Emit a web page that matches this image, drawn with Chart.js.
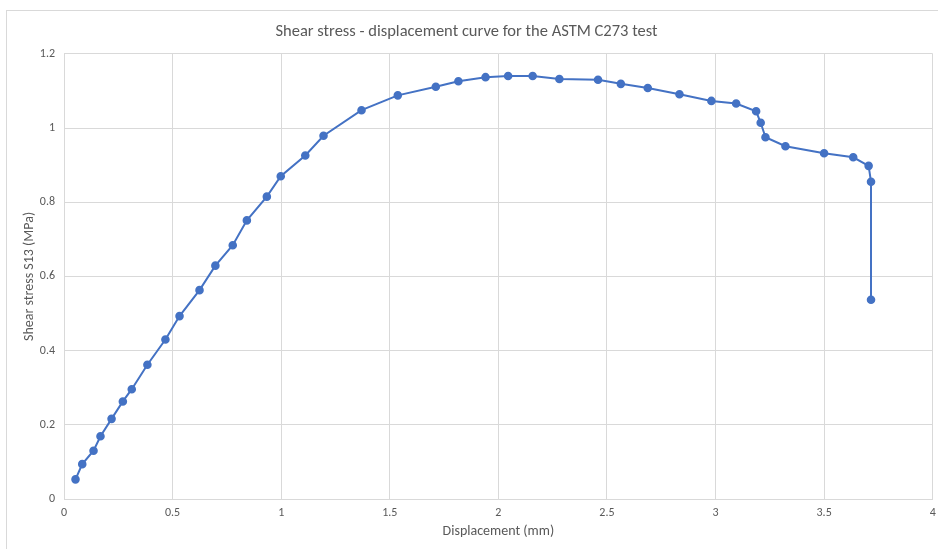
<!DOCTYPE html>
<html>
<head>
<meta charset="utf-8">
<script src="https://cdn.jsdelivr.net/npm/chart.js@4"></script>
<style>
  html, body { margin: 0; padding: 0; background: #fff; }
  #wrap { position: relative; width: 938px; height: 549px; }
  #frame { position: absolute; left: 6px; top: 10px; width: 940px; height: 545px; border: 1px solid #d9d9d9; box-sizing: border-box; }
  canvas { position: absolute; left: 0; top: 0; }
</style>
</head>
<body>
<div id="wrap">
  <div id="frame"></div>
  <canvas id="shearChart" width="938" height="549"></canvas>
</div>
<script>
// displacement (mm)
const displacement = [0.053, 0.084, 0.136, 0.168, 0.219, 0.271, 0.312, 0.384, 0.467, 0.532, 0.624, 0.697, 0.777, 0.842, 0.934, 0.998, 1.111, 1.195, 1.370, 1.537, 1.712, 1.816, 1.941, 2.045, 2.158, 2.281, 2.459, 2.564, 2.688, 2.834, 2.981, 3.095, 3.187, 3.208, 3.230, 3.322, 3.500, 3.634, 3.705, 3.716, 3.716];
// shear stress S13 (MPa)
const stress = [0.053, 0.094, 0.130, 0.169, 0.216, 0.263, 0.296, 0.362, 0.430, 0.493, 0.563, 0.629, 0.684, 0.751, 0.815, 0.870, 0.926, 0.979, 1.048, 1.088, 1.111, 1.126, 1.137, 1.140, 1.140, 1.132, 1.130, 1.119, 1.108, 1.091, 1.073, 1.066, 1.045, 1.014, 0.975, 0.951, 0.932, 0.921, 0.898, 0.855, 0.537];

const textColor = '#595959';
const gridColor = '#d9d9d9';
const fontFamily = "Carlito, Calibri, 'Open Sans', sans-serif";

const points = displacement.map((x, i) => ({ x: x, y: stress[i] }));
const plainNumber = v => String(Number(v.toFixed(2)));

const ctx = document.getElementById('shearChart').getContext('2d');
new Chart(ctx, {
  type: 'scatter',
  data: {
    datasets: [{
      data: points,
      showLine: true,
      borderColor: '#4472C4',
      backgroundColor: '#4472C4',
      borderWidth: 2,
      pointRadius: 3.3,
      pointHoverRadius: 3.3,
      tension: 0
    }]
  },
  options: {
    responsive: false,
    animation: false,
    layout: { padding: { left: 0, right: 5, top: 0, bottom: 0 } },
    plugins: {
      legend: { display: false },
      tooltip: { enabled: false },
      title: {
        display: true,
        text: 'Shear stress - displacement curve for the ASTM C273 test',
        color: textColor,
        font: { family: fontFamily, size: 16.5, weight: 'normal' },
        padding: { top: 22, bottom: 12 }
      }
    },
    scales: {
      x: {
        type: 'linear',
        min: 0,
        max: 4,
        ticks: {
          stepSize: 0.5,
          color: textColor,
          font: { family: fontFamily, size: 12 },
          padding: 7,
          maxRotation: 0,
          callback: plainNumber
        },
        grid: { color: gridColor, drawTicks: false },
        border: { color: gridColor },
        title: {
          display: true,
          text: 'Displacement (mm)',
          color: textColor,
          font: { family: fontFamily, size: 14 },
          padding: { top: 0, bottom: 9 }
        },
        afterFit: scale => { scale.height = 50; scale.paddingRight = 0; }
      },
      y: {
        min: 0,
        max: 1.2,
        ticks: {
          stepSize: 0.2,
          color: textColor,
          font: { family: fontFamily, size: 12 },
          padding: 9,
          callback: plainNumber
        },
        grid: { color: gridColor, drawTicks: false },
        border: { display: false },
        title: {
          display: true,
          text: 'Shear stress S13 (MPa)',
          color: textColor,
          font: { family: fontFamily, size: 14 },
          padding: { top: 21, bottom: 0 }
        },
        afterFit: scale => { scale.width = 64; }
      }
    }
  }
});
</script>
</body>
</html>
